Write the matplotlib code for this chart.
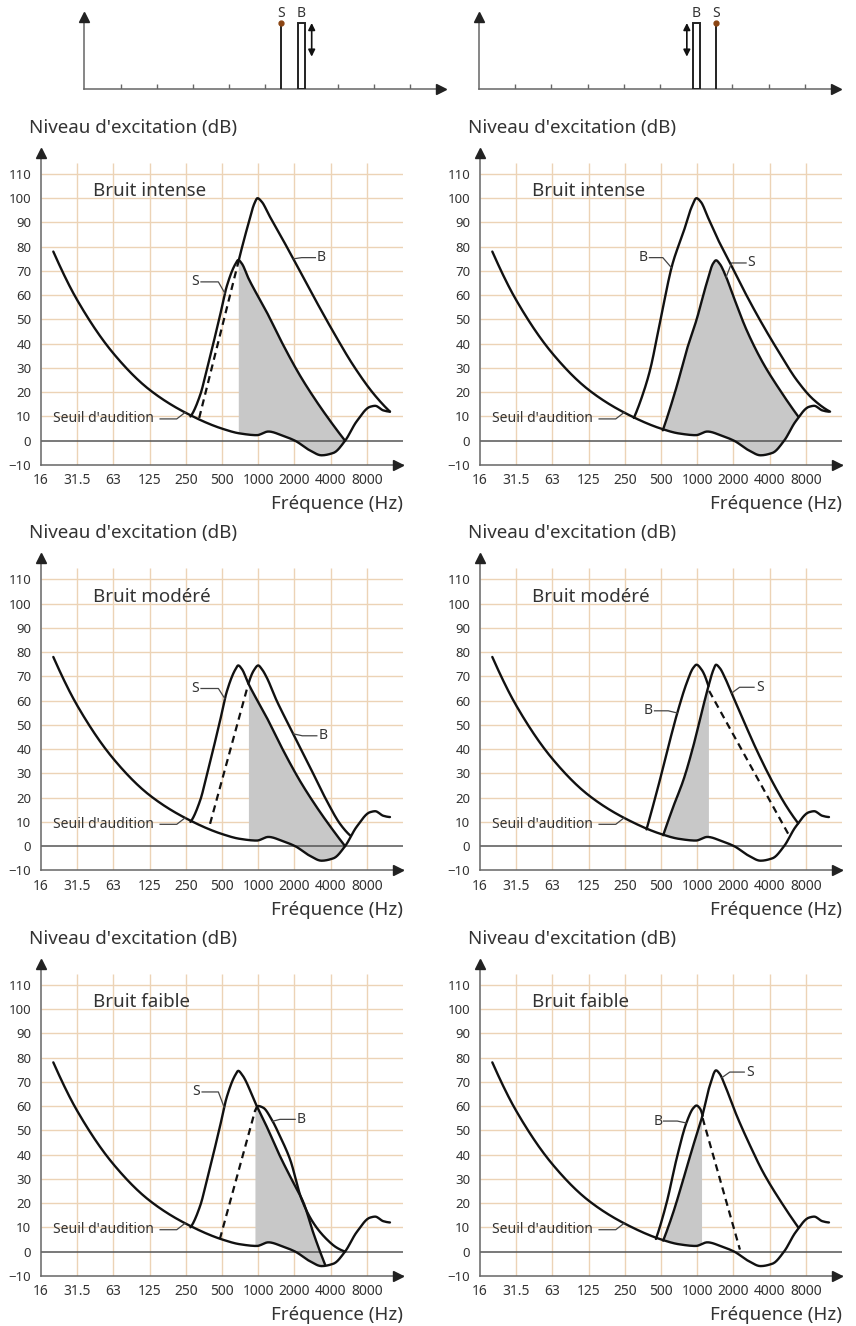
import numpy as np
import matplotlib
matplotlib.use('Agg')
import matplotlib.pyplot as plt
from matplotlib.patches import Rectangle

plt.rcParams['font.family'] = ['Noto Sans', 'DejaVu Sans']

# ─────────────────────────────────────────────────────────────
# Données (x en octaves au-dessus de 16 Hz, y en dB)
# ─────────────────────────────────────────────────────────────
FREQ_LABELS = ['16', '31.5', '63', '125', '250', '500', '1000', '2000', '4000', '8000']
DB_TICKS = list(range(-10, 111, 10))
TITLES = ['Bruit intense', 'Bruit modéré', 'Bruit faible']

THRESH_X = [0.34, 1, 2, 3, 4, 5, 5.5, 5.96, 6.28, 6.69, 7.02, 7.43, 7.75, 8.08,
            8.4, 8.72, 9.09, 9.23, 9.46, 9.64]
THRESH_Y = [78, 58, 36, 21, 11.5, 5, 3, 2.3, 3.8, 2, 0, -4, -6, -5, 0, 8, 14,
            14.4, 12.5, 12]

# panneau 1 : bruit intense, son sous le bruit
P1_S_X = [4.13, 4.4, 4.58, 4.94, 5.13, 5.36, 5.45, 5.55, 5.73, 6.23, 6.69, 7.15,
          7.62, 8.07, 8.4]
P1_S_Y = [10, 19, 29.3, 51.3, 63.6, 72.6, 74.5, 73, 67, 53.2, 39.5, 27, 16, 6.5, 0]
P1_B_X = [5.44, 5.72, 5.9, 5.98, 6.1, 6.3, 6.51, 6.97, 7.62, 8.07, 8.63, 9.18, 9.64]
P1_B_Y = [73, 89, 98, 100, 98.5, 93, 87.5, 75, 57, 45, 31, 19.5, 12]
P1_BD_X = [4.37, 5.44]
P1_BD_Y = [9.4, 73]
P1_SHADE = (5.45, 8.4)

# panneau 2 : bruit intense, son au-dessus du bruit
P2_S_X = [5.05, 5.43, 5.71, 5.98, 6.26, 6.44, 6.52, 6.62, 6.8, 7.0, 7.36, 7.82,
          8.28, 8.79]
P2_S_Y = [4.3, 22.2, 37.4, 49.8, 64.9, 73.1, 74.4, 73, 67.5, 59.5, 45.8, 32, 21, 10]
P2_B_X = [4.25, 4.51, 4.7, 4.97, 5.32, 5.62, 5.85, 5.98, 6.1, 6.3, 6.54, 6.9,
          7.36, 7.82, 8.28, 8.75, 9.21, 9.67]
P2_B_Y = [9.4, 19.7, 29.3, 48.7, 73, 86, 96.5, 100, 98.5, 92, 84, 73.5, 60,
          47.5, 36, 25, 17, 12]
P2_BD_X = []
P2_BD_Y = []
P2_SHADE = (5.05, 8.79)

# panneau 3 : bruit modéré, son sous le bruit
P3_S_X = P1_S_X
P3_S_Y = P1_S_Y
P3_B_X = [5.73, 5.88, 6.0, 6.1, 6.23, 6.51, 6.97, 7.43, 7.89, 8.26, 8.54]
P3_B_Y = [67, 72.5, 74.5, 73, 69.7, 60, 46.3, 32.6, 18.8, 9.2, 4.4]
P3_BD_X = [4.67, 5.72]
P3_BD_Y = [9.2, 66.5]
P3_SHADE = (5.73, 8.4)

# panneau 4 : bruit modéré, son au-dessus du bruit
P4_S_X = [5.06, 5.34, 5.62, 5.89, 6.12, 6.31, 6.45, 6.52, 6.62, 6.78, 6.95, 7.27,
          7.64, 8.1, 8.47, 8.79]
P4_S_Y = [4.5, 16.3, 27.3, 41.1, 54.9, 65.9, 72.8, 74.8, 73.5, 69, 63.1, 52.1,
          39.7, 25.9, 16.3, 9.4]
P4_B_X = [4.6, 4.97, 5.25, 5.45, 5.71, 5.89, 5.98, 6.12, 6.31]
P4_B_Y = [6.9, 27.3, 43.8, 54.9, 67.3, 73.5, 74.8, 72.8, 66]
P4_BD_X = [6.33, 8.55]
P4_BD_Y = [64, 4.1]
P4_SHADE = (5.06, 6.31)

# panneau 5 : bruit faible, son sous le bruit
P5_S_X = [4.13, 4.4, 4.58, 4.94, 5.13, 5.36, 5.45, 5.55, 5.96, 6.23, 6.6, 6.97,
          7.25, 7.52, 7.85]
P5_S_Y = [10, 19, 29.3, 51.3, 63.6, 72.6, 74.5, 73, 60, 51.7, 39.4, 28.4, 20.2,
          7.8, -5.5]
P5_B_X = [5.91, 6.0, 6.14, 6.37, 6.6, 6.88, 7.2, 7.52, 7.89, 8.17, 8.4]
P5_B_Y = [57.9, 60, 59.3, 54.5, 47.6, 38, 21.5, 11.9, 5.1, 1.6, 0]
P5_BD_X = [4.94, 5.91]
P5_BD_Y = [5.1, 57.9]
P5_SHADE = (5.91, 7.85)

# panneau 6 : bruit faible, son au-dessus du bruit
P6_S_X = [5.06, 5.34, 5.62, 5.89, 6.12, 6.35, 6.52, 6.62, 6.78, 7.09, 7.46, 7.82,
          8.38, 8.79]
P6_S_Y = [4.5, 16.2, 30, 43.7, 54.7, 68.5, 74.7, 73.3, 68, 56.1, 43.7, 32.7, 19, 10]
P6_B_X = [4.86, 5.16, 5.43, 5.71, 5.89, 5.98, 6.08, 6.15]
P6_B_Y = [5.2, 20.4, 38.2, 53.4, 59.1, 60.2, 58.9, 56]
P6_BD_X = [6.15, 7.18]
P6_BD_Y = [55, 0.8]
P6_SHADE = (5.06, 6.12)

# schémas du haut : position S, position B, flèche (octaves)
TOP_LEFT = (5.43, 6.0, 6.28)
TOP_RIGHT = (6.54, 6.0, 5.74)

GRID = '#ecd3b6'
AXIS = '#666666'
INK = '#111111'
SHADE = '#c8c8c8'
TXT = '#333333'

W, H = 856, 1326


# ─────────────────────────────────────────────────────────────
# Outils
# ─────────────────────────────────────────────────────────────

def _end_slope(h0, h1, d0, d1):
    m = ((2 * h0 + h1) * d0 - h0 * d1) / (h0 + h1)
    if np.sign(m) != np.sign(d0):
        return 0.0
    if np.sign(d0) != np.sign(d1) and abs(m) > 3 * abs(d0):
        return 3 * d0
    return m


def smooth(xs, ys, n=400):
    """Tracé lissé (Hermite monotone) passant par les points lus."""
    x = np.asarray(xs, float)
    y = np.asarray(ys, float)
    if len(x) < 3:
        return x, y
    h = np.diff(x)
    d = np.diff(y) / h
    m = np.zeros_like(y)
    for k in range(1, len(x) - 1):
        if d[k - 1] * d[k] > 0:
            w1 = 2 * h[k] + h[k - 1]
            w2 = h[k] + 2 * h[k - 1]
            m[k] = (w1 + w2) / (w1 / d[k - 1] + w2 / d[k])
    m[0] = _end_slope(h[0], h[1], d[0], d[1])
    m[-1] = _end_slope(h[-1], h[-2], d[-1], d[-2])
    xx = np.linspace(x[0], x[-1], n)
    i = np.clip(np.searchsorted(x, xx) - 1, 0, len(h) - 1)
    t = (xx - x[i]) / h[i]
    yy = ((2 * t ** 3 - 3 * t ** 2 + 1) * y[i] + (t ** 3 - 2 * t ** 2 + t) * h[i] * m[i]
          + (-2 * t ** 3 + 3 * t ** 2) * y[i + 1] + (t ** 3 - t ** 2) * h[i] * m[i + 1])
    return xx, yy


def arrow_heads(ax, x_end, y_end, x0, y0):
    ax.plot([x0], [y_end], marker='^', color='#222', ms=6.5, clip_on=False, zorder=6)
    ax.plot([x_end], [y0], marker='>', color='#222', ms=6.5, clip_on=False, zorder=6)


def leader(ax, text, tx, ty, ha, hx0, hx1, cx, cy, size=10):
    ax.text(tx, ty, text, ha=ha, va='center', fontsize=size, color=TXT, zorder=7)
    ax.plot([hx0, hx1, cx], [ty, ty, cy], color='#444', lw=0.9, zorder=7)


# ─────────────────────────────────────────────────────────────
# Dessin
# ─────────────────────────────────────────────────────────────

def draw_top(ax, s_x, b_x, arr_x):
    ax.set_xlim(0, 9.97)
    ax.set_ylim(0, 1.167)
    ax.axis('off')
    ax.plot([0, 9.85], [0, 0], color=AXIS, lw=1.1, clip_on=False)
    ax.plot([0, 0], [0, 1.1], color=AXIS, lw=1.1, clip_on=False)
    arrow_heads(ax, 9.85, 1.09, 0, 0)
    ax.vlines(range(1, 10), 0, 0.07, color=AXIS, lw=1)
    ax.vlines(s_x, 0, 1.0, color='#222', lw=1.4)
    ax.plot([s_x], [1.0], 'o', color='#8b4513', ms=3.5, zorder=5)
    ax.add_patch(Rectangle((b_x - 0.1, 0), 0.2, 1.0, fc='white', ec='#222', lw=1.4, zorder=4))
    ax.annotate('', xy=(arr_x, 1.0), xytext=(arr_x, 0.49),
                arrowprops=dict(arrowstyle='<|-|>', color=INK, lw=1.2,
                                mutation_scale=10, shrinkA=0, shrinkB=0))
    ax.text(s_x, 1.15, 'S', ha='center', va='center', fontsize=10, color=TXT)
    ax.text(b_x, 1.15, 'B', ha='center', va='center', fontsize=10, color=TXT)


def draw_panel(ax, title, s, b, bd, shade, labels):
    ax.set_xlim(0, 10)
    ax.set_ylim(-10, 120.7)
    ax.patch.set_alpha(0)
    for side in ('top', 'right'):
        ax.spines[side].set_visible(False)
    for side in ('left', 'bottom'):
        ax.spines[side].set_color(AXIS)
        ax.spines[side].set_linewidth(1.1)
    ax.spines['left'].set_bounds(-10, 118.7)
    arrow_heads(ax, 9.86, 118.7, 0, -10)

    ax.vlines(range(1, 10), -10, 114.5, color=GRID, lw=1, zorder=0)
    ax.hlines(range(10, 111, 10), 0, 10, color=GRID, lw=1, zorder=0)
    ax.hlines(0, 0, 10, color='#555', lw=1.1, zorder=2.5)

    ax.set_xticks(range(10))
    ax.set_xticklabels(FREQ_LABELS)
    ax.set_yticks(DB_TICKS)
    ax.tick_params(axis='x', length=0, pad=6, labelsize=10, labelcolor=TXT)
    ax.tick_params(axis='y', length=0, pad=7, labelsize=9.5, labelcolor=TXT)

    tx, ty = smooth(THRESH_X, THRESH_Y)
    sx, sy = smooth(*s)
    bx, by = smooth(*b)

    grid = np.linspace(shade[0], shade[1], 300)
    ax.fill_between(grid, np.interp(grid, tx, ty), np.interp(grid, sx, sy),
                    color=SHADE, lw=0, zorder=2)

    for cx_, cy_ in ((tx, ty), (sx, sy), (bx, by)):
        ax.plot(cx_, cy_, color=INK, lw=1.7, zorder=4, solid_capstyle='round')
    if bd[0]:
        ax.plot(bd[0], bd[1], color=INK, lw=1.6, ls=(0, (3.2, 2.2)), zorder=4)

    ax.text(1.43, 102.8, title, ha='left', va='center', fontsize=13.5, color=TXT)
    ax.text(-0.033, 1.063, "Niveau d'excitation (dB)", transform=ax.transAxes,
            ha='left', va='center', fontsize=13.5, color=TXT)
    ax.text(1.0, -0.124, 'Fréquence (Hz)', transform=ax.transAxes,
            ha='right', va='center', fontsize=13.5, color=TXT)

    # annotations
    curves = {'S': (sx, sy), 'B': (bx, by), 'T': (tx, ty)}
    for name, lx, ly, ha, h0, h1, cx in labels:
        key = 'T' if name.startswith('Seuil') else name
        cy = float(np.interp(cx, *curves[key]))
        leader(ax, name, lx, ly, ha, h0, h1, cx, cy)


def main():
    fig = plt.figure(figsize=(W / 100, H / 100), dpi=100)

    ax_tl = fig.add_axes([84.3 / W, 1 - 89 / H, 361 / W, 77 / H])
    draw_top(ax_tl, *TOP_LEFT)
    ax_tr = fig.add_axes([479 / W, 1 - 89 / H, 361 / W, 77 / H])
    draw_top(ax_tr, *TOP_RIGHT)

    seuil = ("Seuil d'audition", 0.34, 9, 'left', 3.29, 3.75, 3.98)
    panels = [
        (TITLES[0], (P1_S_X, P1_S_Y), (P1_B_X, P1_B_Y), (P1_BD_X, P1_BD_Y), P1_SHADE,
         [('S', 4.25, 65.5, 'center', 4.42, 4.9, 5.08),
          ('B', 7.73, 75.5, 'center', 7.58, 7.2, 6.97), seuil]),
        (TITLES[0], (P2_S_X, P2_S_Y), (P2_B_X, P2_B_Y), (P2_BD_X, P2_BD_Y), P2_SHADE,
         [('B', 4.51, 75.5, 'center', 4.68, 5.05, 5.29),
          ('S', 7.5, 73.3, 'center', 7.35, 6.95, 6.8), seuil]),
        (TITLES[1], (P3_S_X, P3_S_Y), (P3_B_X, P3_B_Y), (P3_BD_X, P3_BD_Y), P3_SHADE,
         [('S', 4.25, 65, 'center', 4.42, 4.9, 5.08),
          ('B', 7.78, 45.5, 'center', 7.62, 7.22, 6.97), seuil]),
        (TITLES[1], (P4_S_X, P4_S_Y), (P4_B_X, P4_B_Y), (P4_BD_X, P4_BD_Y), P4_SHADE,
         [('B', 4.65, 55.8, 'center', 4.82, 5.2, 5.45),
          ('S', 7.73, 65.5, 'center', 7.57, 7.17, 6.95), seuil]),
        (TITLES[2], (P5_S_X, P5_S_Y), (P5_B_X, P5_B_Y), (P5_BD_X, P5_BD_Y), P5_SHADE,
         [('S', 4.28, 65.8, 'center', 4.45, 4.9, 5.06),
          ('B', 7.18, 54.5, 'center', 7.02, 6.6, 6.4), seuil]),
        (TITLES[2], (P6_S_X, P6_S_Y), (P6_B_X, P6_B_Y), (P6_BD_X, P6_BD_Y), P6_SHADE,
         [('B', 4.91, 53.8, 'center', 5.07, 5.45, 5.7),
          ('S', 7.46, 74, 'center', 7.3, 6.9, 6.68), seuil]),
    ]

    for i, (title, s, b, bd, shade, labels) in enumerate(panels):
        row, col = divmod(i, 2)
        x0 = 41 if col == 0 else 480
        y_b = 465 + 405.4 * row
        ax = fig.add_axes([x0 / W, 1 - y_b / H, 362 / W, 317 / H])
        draw_panel(ax, title, s, b, bd, shade, labels)

    fig.savefig('out.png', dpi=100, facecolor='white')
    plt.close(fig)


if __name__ == '__main__':
    main()
